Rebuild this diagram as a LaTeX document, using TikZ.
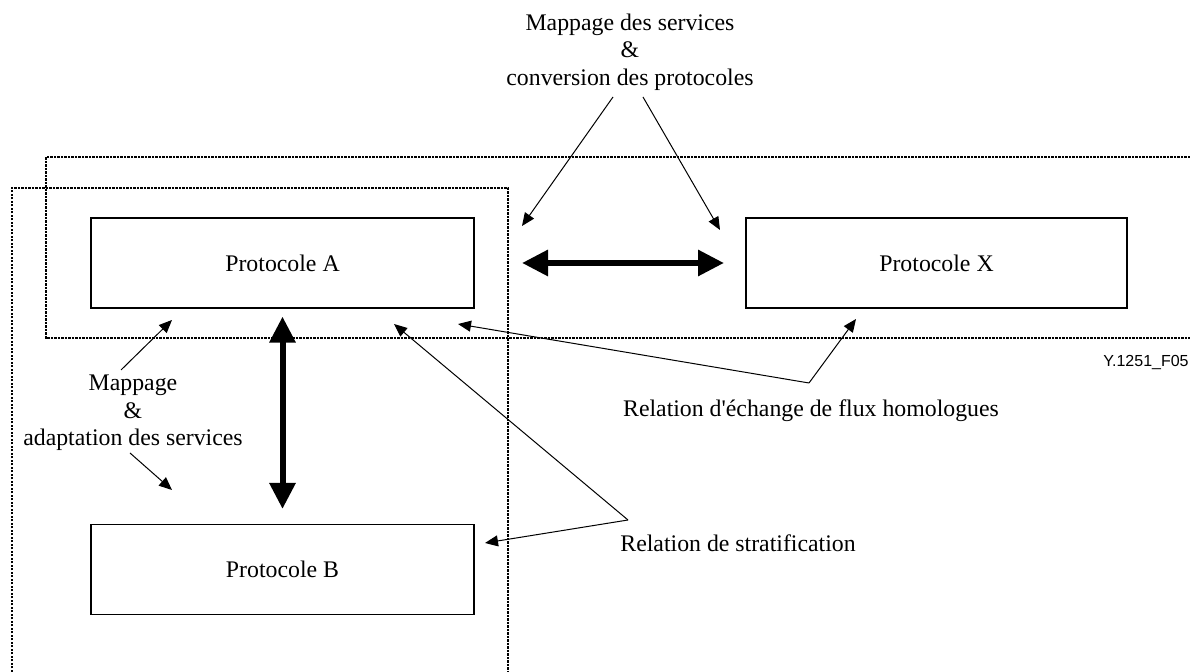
\documentclass[tikz,border=0pt]{standalone}
\usepackage{fontspec}
\setmainfont{Liberation Serif}
\newfontfamily\codefont{Liberation Sans}
\usetikzlibrary{arrows.meta}

\tikzset{
  protobox/.style={draw, line width=0.55pt, minimum width=191.5pt, minimum height=45pt, inner sep=0pt},
  lbl/.style={align=center, inner sep=0pt},
  thin arrow/.style={line width=0.5pt, -{Triangle[length=6.5pt,width=5.5pt]}},
  thick arrow/.style={line width=3pt, {Triangle[length=13pt,width=12.5pt]}-{Triangle[length=13pt,width=12.5pt]}},
  zone/.style={line width=1.25pt, dash pattern=on 1.1pt off 0.65pt}
}

\begin{document}
\begin{tikzpicture}[x=0.5pt, y=-0.5pt, font=\fontsize{11.9}{13.8}\selectfont]
                \useasboundingbox (0,0) rectangle (1190,672);
                % dotted zones
                \begin{scope}[zone]
                  \draw (12,672) -- (12,188) -- (508,188) -- (508,672);
                  \draw (1190,157) -- (46,157) -- (46,338) -- (1190,338);
                \end{scope}
                % protocol boxes
                \node[protobox] (protA) at (282.5,263) {Protocole A};
                \node[protobox] (protB) at (282.5,569.5) {Protocole B};
                \node[protobox, minimum width=190.5pt] (protX) at (936.5,263) {Protocole X};
                % labels
                \node[lbl] (conv) at (630,52) {Mappage des services\\\&\\conversion des protocoles};
                \node[lbl] (adapt) at (133,413) {Mappage\\\&\\adaptation des services};
                \node[lbl] (homol) at (811,411) {Relation d\textquotesingle échange de flux homologues};
                \node[lbl, anchor=west] (strat) at (620,543) {Relation de stratification};
                \node[lbl, anchor=east, font=\codefont\fontsize{8}{9}\selectfont] (code) at (1189,363) {Y.1251\_F05};
                % arrow ends
                \coordinate (convL) at (613,97);
                \coordinate (convR) at (643,97);
                \coordinate (gapL) at (522,226);
                \coordinate (gapR) at (720,230);
                \coordinate (adaptUp) at (121,370);
                \coordinate (adaptDn) at (130,453);
                \coordinate (underA) at (172,320);
                \coordinate (aboveB) at (172,490);
                \coordinate (homolV) at (809,383);
                \coordinate (homolA) at (458,324);
                \coordinate (homolX) at (856,319);
                \coordinate (stratV) at (628,520);
                \coordinate (stratA) at (394,324);
                \coordinate (stratB) at (485,543);
                \coordinate (peerL) at (522,263);
                \coordinate (peerR) at (724,263);
                % thick relations
                \draw[thick arrow] (peerL) -- (peerR);
                \draw[thick arrow] ([yshift=-4pt]protA.south) -- ([yshift=7.5pt]protB.north);
                % thin pointers
                \draw[thin arrow] (convL) -- (gapL);
                \draw[thin arrow] (convR) -- (gapR);
                \draw[thin arrow] (adaptUp) -- (underA);
                \draw[thin arrow] (adaptDn) -- (aboveB);
                \draw[thin arrow] (homolV) -- (homolA);
                \draw[thin arrow] (homolV) -- (homolX);
                \draw[thin arrow] (stratV) -- (stratA);
                \draw[thin arrow] (stratV) -- (stratB);
              \end{tikzpicture}
\end{document}
